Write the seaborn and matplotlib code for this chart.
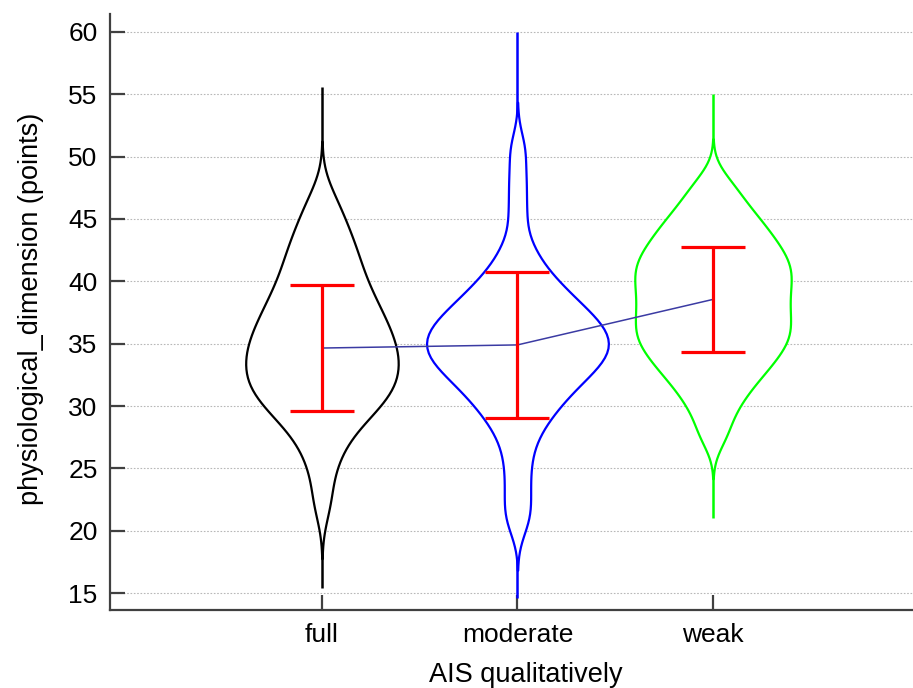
import numpy as np
import pandas as pd
import matplotlib
matplotlib.use("Agg")
import matplotlib.pyplot as plt
import seaborn as sns

# ---- data -------------------------------------------------------------
categories = ["full", "moderate", "weak"]

full_scores = [22.3, 25.0, 26.6, 27.8, 28.6, 29.2, 29.7, 30.2, 30.6, 31.0,
               31.3, 31.7, 32.0, 32.4, 32.7, 33.1, 33.4, 33.8, 34.1, 34.5,
               34.8, 35.2, 35.6, 35.9, 36.3, 36.8, 37.2, 37.6, 38.1, 38.6,
               39.1, 39.7, 40.3, 41.0, 41.7, 42.4, 43.2, 44.1, 45.2, 46.7]

moderate_scores = [20.6, 22.1, 23.8, 25.5, 27.0, 28.1, 28.9, 29.5, 30.1, 30.5,
                   31.0, 31.4, 31.7, 32.1, 32.4, 32.7, 33.0, 33.2, 33.5, 33.7,
                   34.0, 34.2, 34.4, 34.6, 34.9, 35.1, 35.3, 35.5, 35.7, 36.0,
                   36.2, 36.5, 36.7, 37.0, 37.2, 37.5, 37.8, 38.2, 38.5, 38.9,
                   39.3, 39.8, 40.3, 41.0, 41.9, 43.2, 45.6, 48.0, 50.6]

weak_scores = [27.6, 29.3, 30.5, 31.3, 32.1, 32.6, 33.2, 33.6, 34.1, 34.5,
               34.9, 35.3, 35.6, 36.0, 36.3, 36.7, 37.1, 37.5, 37.8, 38.2,
               38.6, 39.0, 39.4, 39.7, 40.1, 40.5, 40.8, 41.2, 41.5, 41.9,
               42.3, 42.7, 43.1, 43.6, 44.1, 44.6, 45.2, 45.9, 46.8, 48.0]

# observed range, mean and standard deviation per group
score_min = [15.4, 14.6, 21.0]
score_max = [55.6, 60.0, 55.0]
score_mean = [34.65, 34.9, 38.55]
score_sd = [5.05, 5.85, 4.2]

y_ticks = [15, 20, 25, 30, 35, 40, 45, 50, 55, 60]

# ---- style --------------------------------------------------------------
sns.set_theme(style="ticks")
plt.rcParams["font.family"] = ["Liberation Sans", "DejaVu Sans"]

violin_colors = ["#000000", "#0000ff", "#00ff00"]
violin_widths = [0.78, 0.93, 0.80]
violin_bw = [0.65, 0.53, 0.55]
axis_color = "#404040"
tick_size = 19
label_size = 19.5

fig = plt.figure(figsize=(9.13, 6.88), dpi=100)
ax = fig.add_axes([110 / 913, 78 / 688, 803 / 913, 596 / 688])

positions = np.arange(len(categories))

# thin range lines from minimum to maximum, hidden inside the violin bodies
ax.vlines(positions, score_min, score_max, colors=violin_colors,
          linewidth=1.8, zorder=1.5)

groups = [full_scores, moderate_scores, weak_scores]
for cat, vals, col, w, bw in zip(categories, groups, violin_colors,
                                 violin_widths, violin_bw):
    df = pd.DataFrame({"group": [cat] * len(vals), "score": vals})
    sns.violinplot(data=df, x="group", y="score", order=categories,
                   color="white", linecolor=col, saturation=1, fill=True,
                   inner=None, cut=2.6, bw_adjust=bw, width=w,
                   density_norm="width", linewidth=1.6, ax=ax, zorder=2,
                   joinstyle="round")

# line joining the group means
sns.pointplot(x=categories, y=score_mean, order=categories, color="#3b3ba3",
              markers="", errorbar=None, linewidth=1.1, ax=ax, zorder=3)

# mean +/- SD
ax.errorbar(positions, score_mean, yerr=score_sd, fmt="none",
            ecolor="#ff0000", elinewidth=2.3, capsize=23, capthick=2.3,
            zorder=4)

# ---- axes ---------------------------------------------------------------
ax.set_xlim(-1.084, 3.023)
ax.set_ylim(13.64, 61.44)
ax.set_yticks(y_ticks)
ax.set_xticks(positions)
ax.set_xticklabels(categories)

ax.yaxis.grid(True, linestyle=(0, (1.5, 1.5)), color="#b8b8b8",
              linewidth=0.8, zorder=0)
ax.xaxis.grid(False)
ax.set_axisbelow(True)

for side in ["top", "right"]:
    ax.spines[side].set_visible(False)
for side in ["left", "bottom"]:
    ax.spines[side].set_color(axis_color)
    ax.spines[side].set_linewidth(1.6)

ax.tick_params(axis="both", direction="in", length=11, width=1.6,
               color=axis_color, labelsize=tick_size, labelcolor="black")
ax.tick_params(axis="y", pad=9)
ax.tick_params(axis="x", pad=9)

ax.set_xlabel("AIS qualitatively", fontsize=label_size, color="black")
ax.set_ylabel("physiological_dimension (points)", fontsize=label_size,
              color="black")
ax.xaxis.set_label_coords(0.518, -0.088)
ax.yaxis.set_label_coords(-0.082, 0.505)

fig.savefig("out.png", dpi=100)
